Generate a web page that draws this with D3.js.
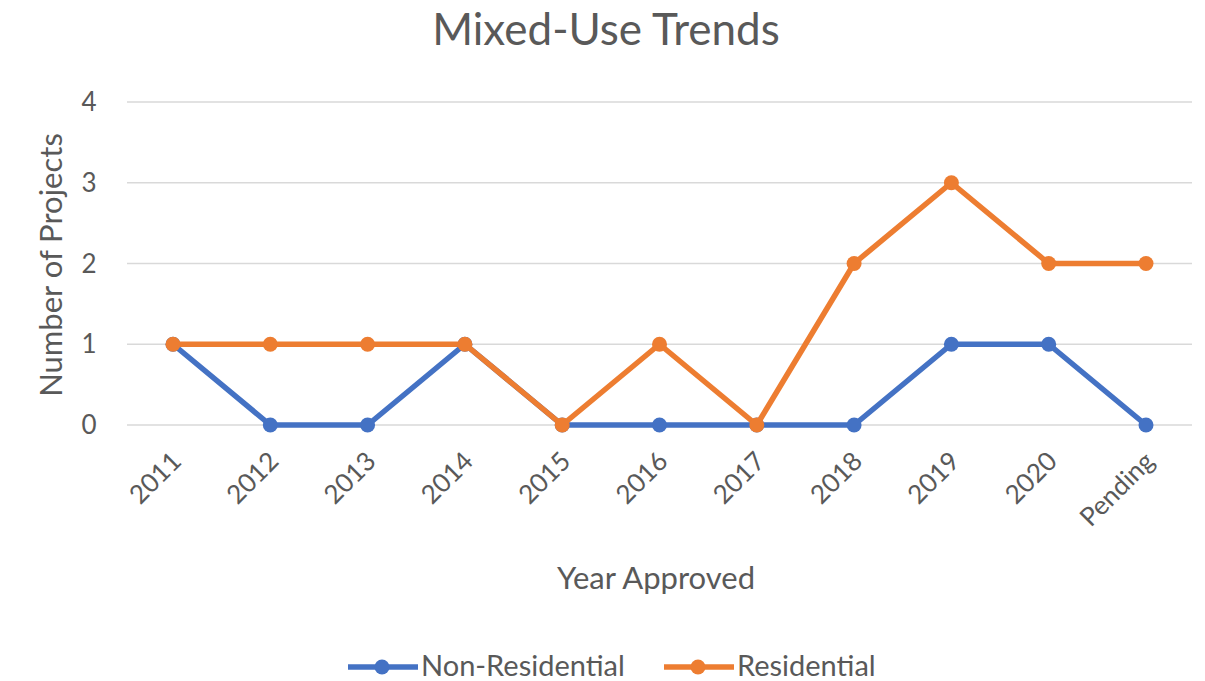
<!DOCTYPE html>
<html><head><meta charset="utf-8">
<script src="https://cdn.jsdelivr.net/npm/d3@7"></script>
<style>body{margin:0;background:#fff}svg{display:block}</style>
</head><body>
<script>
const categories = ["2011","2012","2013","2014","2015","2016","2017","2018","2019","2020","Pending"];
const nonResidential = [1,0,0,1,0,0,0,0,1,1,0];
const residential = [1,1,1,1,0,1,0,2,3,2,2];
const yTicks = [0,1,2,3,4];
const seriesNames = ["Non-Residential","Residential"];
const colors = ["#4472C4","#ED7D31"];

const W=1205,H=681;
const font="Lato, 'Open Sans', sans-serif";
const svg=d3.select("body").append("svg").attr("width",W).attr("height",H);
const x=d3.scalePoint().domain(categories).range([173,1146]);
const y=d3.scaleLinear().domain([0,4]).range([425,102]);

svg.append("g").selectAll("line").data(yTicks).join("line")
 .attr("x1",127).attr("x2",1192).attr("y1",d=>y(d)).attr("y2",d=>y(d))
 .attr("stroke","#d9d9d9").attr("stroke-width",1.3);

svg.append("g").selectAll("text").data(yTicks).join("text")
 .attr("x",89).attr("y",d=>y(d)).attr("dy","0.35em").attr("text-anchor","middle")
 .attr("font-family",font).attr("font-size",26).attr("fill","#595959").text(d=>d);

svg.append("g").selectAll("text").data(categories).join("text")
 .attr("transform",d=>`translate(${x(d)-3},${450}) rotate(-45)`)
 .attr("text-anchor","end").attr("dy","0.7em")
 .attr("font-family",font).attr("font-size",26).attr("fill","#595959").text(d=>d);

const line=d3.line().x((d,i)=>x(categories[i])).y(d=>y(d));
[nonResidential,residential].forEach((s,k)=>{
  const g=svg.append("g");
  g.append("path").attr("d",line(s)).attr("fill","none").attr("stroke",colors[k])
   .attr("stroke-width",5.5).attr("stroke-linejoin","round");
  g.selectAll("circle").data(s).join("circle")
   .attr("cx",(d,i)=>x(categories[i])).attr("cy",d=>y(d)).attr("r",7.5).attr("fill",colors[k]);
});

svg.append("text").attr("x",606).attr("y",45).attr("text-anchor","middle")
 .attr("font-family",font).attr("font-size",44).attr("fill","#595959").text("Mixed-Use Trends");
svg.append("text").attr("transform","translate(62,265) rotate(-90)").attr("text-anchor","middle")
 .attr("font-family",font).attr("font-size",31).attr("fill","#595959").text("Number of Projects");
svg.append("text").attr("x",656).attr("y",589).attr("text-anchor","middle")
 .attr("font-family",font).attr("font-size",31).attr("fill","#595959").text("Year Approved");

const leg=[{x:348,name:seriesNames[0],c:colors[0]},{x:664,name:seriesNames[1],c:colors[1]}];
leg.forEach(l=>{
  svg.append("line").attr("x1",l.x).attr("x2",l.x+70).attr("y1",667).attr("y2",667)
   .attr("stroke",l.c).attr("stroke-width",5.5);
  svg.append("circle").attr("cx",l.x+34).attr("cy",667).attr("r",7.5).attr("fill",l.c);
  svg.append("text").attr("x",l.x+73).attr("y",666).attr("dy","0.35em")
   .attr("font-family",font).attr("font-size",29).attr("fill","#595959").text(l.name);
});
</script>
</body></html>
